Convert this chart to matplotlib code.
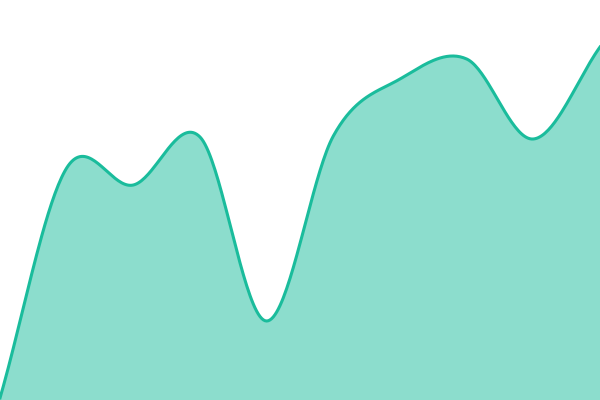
import numpy as np
import matplotlib
matplotlib.use("Agg")
import matplotlib.pyplot as plt

# valores (indice de punto, valor)
x_vals = [0, 1, 2, 3, 4, 5, 6, 7, 8, 9]
y_vals = [2, 232, 215, 263, 79, 264, 321, 341, 261, 353]

line_color = '#1abc9c'


def catmull_rom(xs, ys, n=40):
    # curva suave que pasa por todos los puntos
    xs = np.asarray(xs, float)
    ys = np.asarray(ys, float)
    px = np.concatenate([[2 * xs[0] - xs[1]], xs, [2 * xs[-1] - xs[-2]]])
    py = np.concatenate([[2 * ys[0] - ys[1]], ys, [2 * ys[-1] - ys[-2]]])
    out_x, out_y = [], []
    for i in range(1, len(px) - 2):
        t = np.linspace(0, 1, n, endpoint=False)
        for p, out in ((px, out_x), (py, out_y)):
            p0, p1, p2, p3 = p[i - 1], p[i], p[i + 1], p[i + 2]
            out.extend(0.5 * ((2 * p1) + (-p0 + p2) * t
                              + (2 * p0 - 5 * p1 + 4 * p2 - p3) * t ** 2
                              + (-p0 + 3 * p1 - 3 * p2 + p3) * t ** 3))
    out_x.append(xs[-1])
    out_y.append(ys[-1])
    return np.array(out_x), np.array(out_y)


sx, sy = catmull_rom(x_vals, y_vals)

fig = plt.figure(figsize=(6, 4), dpi=100)
ax = fig.add_axes([0, 0, 1, 1])
ax.fill_between(sx, 0, sy, color=line_color, alpha=0.5, linewidth=0)
ax.plot(sx, sy, color=line_color, linewidth=2.2)
ax.set_xlim(0, 9)
ax.set_ylim(0, 400)
ax.axis('off')

plt.savefig('out.png', dpi=100)
